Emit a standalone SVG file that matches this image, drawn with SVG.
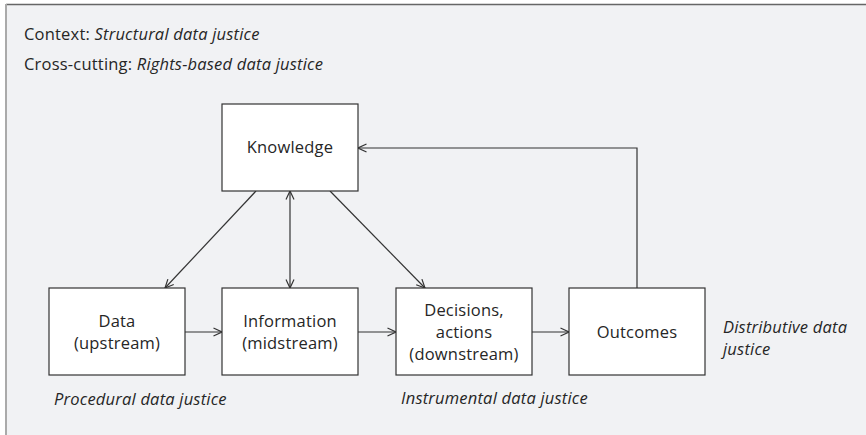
<svg xmlns="http://www.w3.org/2000/svg" width="866" height="435" viewBox="0 0 866 435">
<defs>
<style>
.t{font-family:"Open Sans","Liberation Sans",Arial,sans-serif;font-size:16.5px;letter-spacing:0.2px;fill:#262626}
.i{font-style:italic}
.box{fill:#fff;stroke:#333;stroke-width:1.2}
.c{stroke:#333;stroke-width:1.2;fill:none}
</style>
<marker id="ah" viewBox="0 0 10 10" refX="9.5" refY="5" markerWidth="10" markerHeight="10" markerUnits="userSpaceOnUse" orient="auto-start-reverse">
<path d="M1,1 L9.5,5 L1,9" fill="none" stroke="#333" stroke-width="1.2"/>
</marker>
</defs>
<rect x="0" y="0" width="866" height="435" fill="#fff"/>
<rect x="6" y="4.5" width="860" height="430.5" fill="#f1f2f4"/>
<line x1="6" y1="4.5" x2="866" y2="4.5" stroke="#666" stroke-width="1.5"/>
<line x1="6" y1="4" x2="6" y2="435" stroke="#aaa" stroke-width="2"/>
<text class="t" x="24" y="40">Context: <tspan class="i">Structural data justice</tspan></text>
<text class="t" x="24" y="70">Cross-cutting: <tspan class="i">Rights-based data justice</tspan></text>
<g id="connectors">
<line class="c" x1="256" y1="191" x2="165" y2="288" marker-end="url(#ah)"/>
<line class="c" x1="290" y1="191" x2="290" y2="288" marker-start="url(#ah)" marker-end="url(#ah)"/>
<line class="c" x1="330" y1="191" x2="425" y2="288" marker-end="url(#ah)"/>
<line class="c" x1="185" y1="332" x2="222" y2="332" marker-end="url(#ah)"/>
<line class="c" x1="358" y1="332" x2="396" y2="332" marker-end="url(#ah)"/>
<line class="c" x1="532" y1="332" x2="569" y2="332" marker-end="url(#ah)"/>
<polyline class="c" points="637,288 637,148 358,148" marker-end="url(#ah)"/>
</g>
<g id="knowledge">
<rect class="box" x="222" y="104" width="136" height="87"/>
<text class="t" x="290" y="153" text-anchor="middle">Knowledge</text>
</g>
<g id="data">
<rect class="box" x="49" y="288" width="136" height="87"/>
<text class="t" x="117" y="327" text-anchor="middle">Data</text>
<text class="t" x="117" y="349" text-anchor="middle">(upstream)</text>
</g>
<g id="information">
<rect class="box" x="222" y="288" width="136" height="87"/>
<text class="t" x="290" y="327" text-anchor="middle">Information</text>
<text class="t" x="290" y="349" text-anchor="middle">(midstream)</text>
</g>
<g id="decisions">
<rect class="box" x="396" y="288" width="136" height="87"/>
<text class="t" x="464" y="316" text-anchor="middle">Decisions,</text>
<text class="t" x="464" y="338" text-anchor="middle">actions</text>
<text class="t" x="464" y="360" text-anchor="middle">(downstream)</text>
</g>
<g id="outcomes">
<rect class="box" x="569" y="288" width="136" height="87"/>
<text class="t" x="637" y="338" text-anchor="middle">Outcomes</text>
</g>
<g id="labels">
<text class="t i" x="54" y="405">Procedural data justice</text>
<text class="t i" x="401" y="404">Instrumental data justice</text>
<text class="t i" x="723" y="333">Distributive data</text>
<text class="t i" x="723" y="355">justice</text>
</g>
</svg>
